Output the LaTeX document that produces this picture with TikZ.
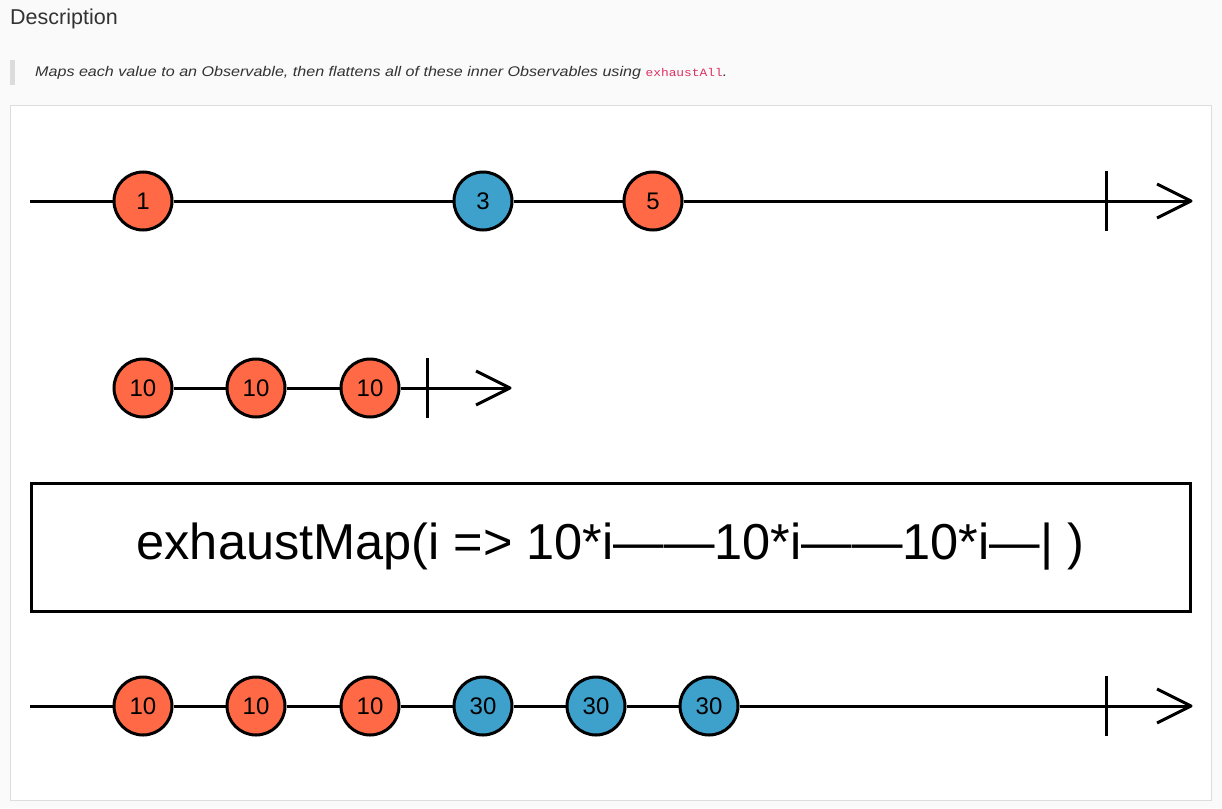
\documentclass[tikz,border=0pt]{standalone}
\usepackage{fontspec}
\setmainfont{Liberation Sans}
\setmonofont{Liberation Mono}
\usetikzlibrary{positioning}
\definecolor{pagebg}{HTML}{FAFAFA}
\definecolor{panelline}{HTML}{DDDDDD}
\definecolor{quotebar}{HTML}{DCDCDC}
\definecolor{bodytext}{HTML}{333333}
\definecolor{codepink}{HTML}{DC3164}
\definecolor{marbleorange}{HTML}{FF6946}
\definecolor{marbleblue}{HTML}{3EA1CB}
\tikzset{
  marble/.style={circle, draw=black, fill=#1, line width=3pt, minimum size=58pt, inner sep=0pt, font=\fontsize{24}{24}\selectfont},
  timeline/.style={line width=3pt, line join=round},
  opbox/.style={draw=black, line width=3pt, minimum width=1159pt, minimum height=128pt, inner sep=0pt, font=\fontsize{50.5}{50.5}\selectfont},
}
\begin{document}
\begin{tikzpicture}[x=1pt, y=-1pt]
		\fill[pagebg] (0,0) rectangle (1222,808);
		\useasboundingbox (0,0) rectangle (1222,808);
		\node[anchor=base west, inner sep=0pt, text=bodytext, font=\fontsize{21.5}{21.5}\selectfont] (desc) at (10,25) {Description};
		\fill[quotebar] (10,60) rectangle (15,85);
		\node[anchor=base west, inner sep=0pt, text=bodytext] (quote) at (35,77) {\scalebox{1.15}[1]{\fontsize{14}{14}\itshape Maps each value to an Observable, then flattens all of these inner Observables using {\upshape\ttfamily\fontsize{11.2}{11.2}\selectfont\color{codepink}exhaustAll}.}};
		\draw[panelline, fill=white] (10.5,105.5) rectangle (1211.5,800.5);
		% source
		\coordinate (a0) at (30,201);
		\coordinate (aend) at (1191,201);
		\coordinate (atick) at (1106,201);
		\foreach \x/\v/\c [count=\i] in {143/1/marbleorange, 483/3/marbleblue, 653/5/marbleorange}{
			\node[marble=\c] (a\i) at (\x,201) {\v};
		}
		\draw[timeline] (a0) -- (a1) -- (a2) -- (a3) -- (aend);
		\draw[timeline] ([yshift=-30pt]atick) -- ([yshift=30pt]atick);
		\draw[timeline] ([shift={(-34,-17)}]aend) -- (aend) -- ([shift={(-34,17)}]aend);
		% inner
		\coordinate (bend) at (510,388);
		\coordinate (btick) at (427,388);
		\foreach \x [count=\i] in {143, 256, 370}{
			\node[marble=marbleorange] (b\i) at (\x,388) {10};
		}
		\draw[timeline] (b1) -- (b2) -- (b3) -- (bend);
		\draw[timeline] ([yshift=-30pt]btick) -- ([yshift=30pt]btick);
		\draw[timeline] ([shift={(-34,-17)}]bend) -- (bend) -- ([shift={(-34,17)}]bend);
		% operator
		\node[opbox] (op) at (610.5,547) {exhaustMap(i => 10*i——10*i——10*i—| )};
		% result
		\coordinate (c0) at (30,706);
		\coordinate (cend) at (1191,706);
		\coordinate (ctick) at (1106,706);
		\foreach \x/\v/\c [count=\i] in {143/10/marbleorange, 256/10/marbleorange, 370/10/marbleorange, 483/30/marbleblue, 596/30/marbleblue, 709/30/marbleblue}{
			\node[marble=\c] (c\i) at (\x,706) {\v};
		}
		\draw[timeline] (c0) -- (c1) -- (c2) -- (c3) -- (c4) -- (c5) -- (c6) -- (cend);
		\draw[timeline] ([yshift=-30pt]ctick) -- ([yshift=30pt]ctick);
		\draw[timeline] ([shift={(-34,-17)}]cend) -- (cend) -- ([shift={(-34,17)}]cend);
	\end{tikzpicture}
\end{document}
